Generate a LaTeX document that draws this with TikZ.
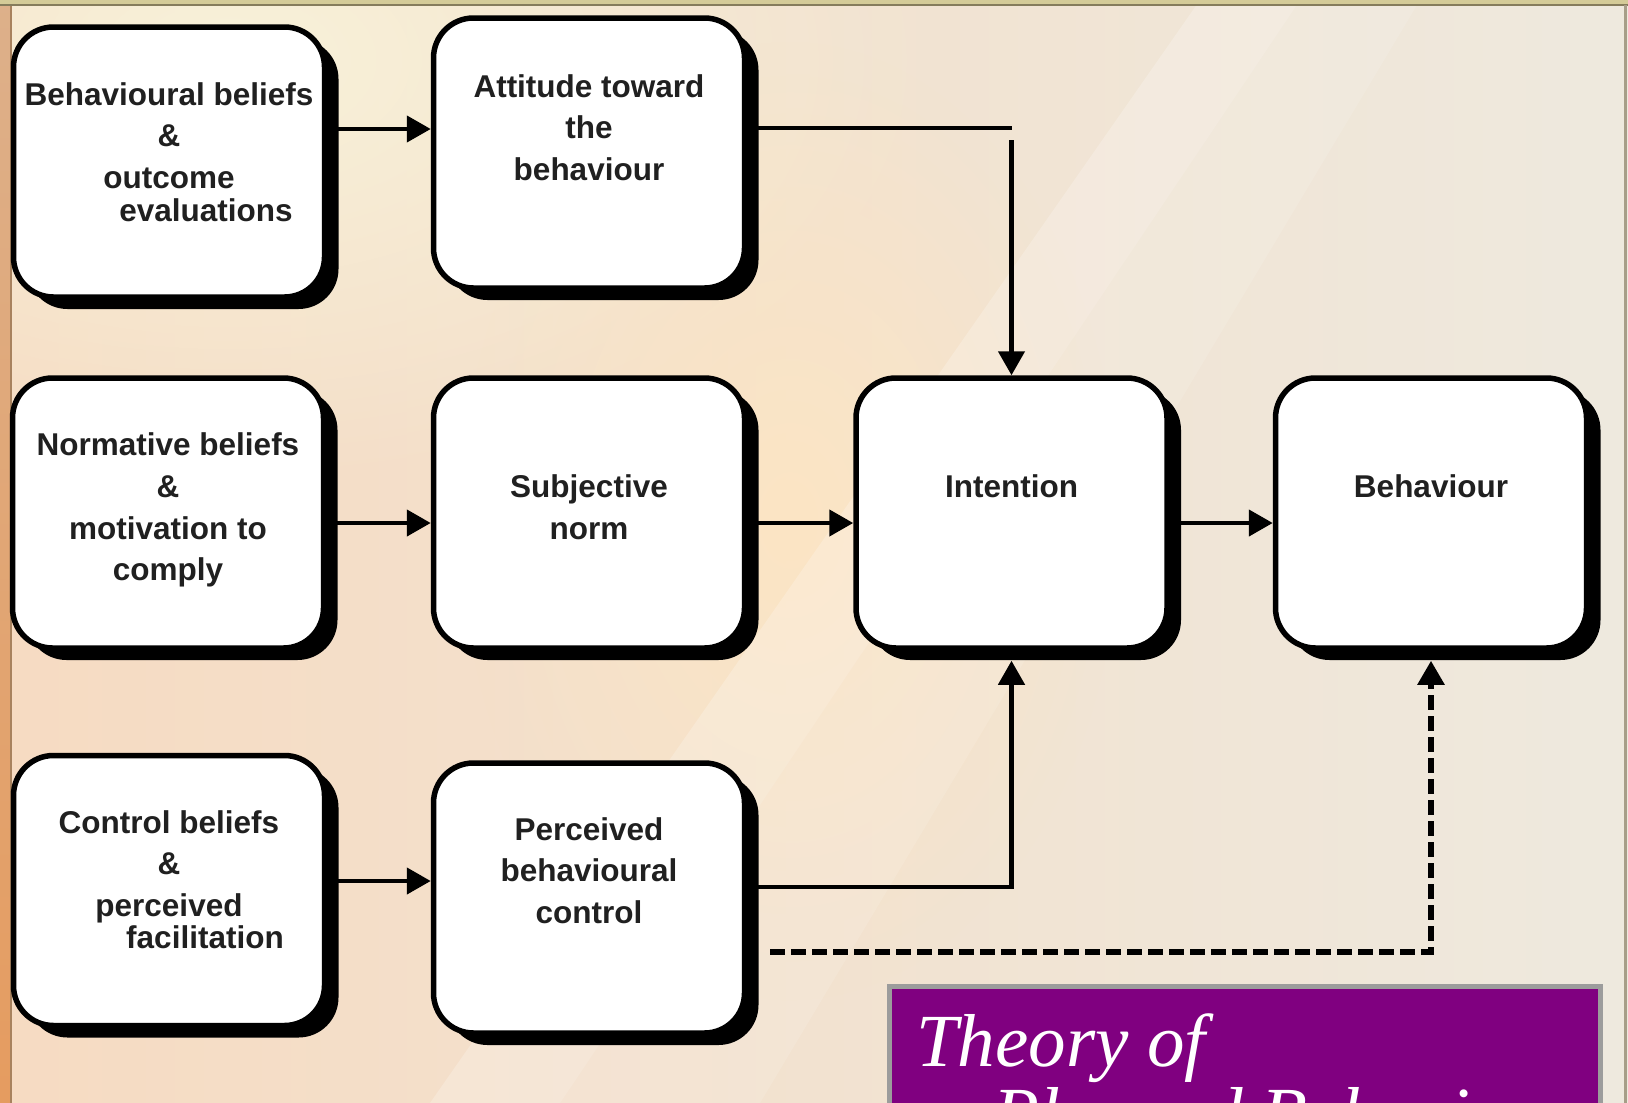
\documentclass[tikz,border=0pt]{standalone}
\usepackage{fontspec}
\setmainfont{Liberation Sans}
\newfontfamily\titlefont{Liberation Serif}
\usetikzlibrary{arrows.meta,shadows,fadings,calc}
\definecolor{txt}{HTML}{202020}
\definecolor{bgL}{HTML}{F6DBC2}
\definecolor{bgM}{HTML}{F9EAD5}
\definecolor{bgR}{HTML}{EEE9DE}
\definecolor{bgTop}{HTML}{F8F2DA}
\definecolor{bgWarm}{HTML}{FCE5C4}
\definecolor{stripA}{HTML}{DDB08A}
\definecolor{stripB}{HTML}{E39457}
\definecolor{stripC}{HTML}{E59C60}
\definecolor{stripLine}{HTML}{A8825E}
\definecolor{topFill}{HTML}{D4CB98}
\definecolor{topLine}{HTML}{857C5C}
\definecolor{rightLine}{HTML}{A79E88}
\definecolor{purp}{HTML}{800080}
\definecolor{boxgray}{HTML}{9C9C9C}
\tikzfading[name=softdisc, inner color=transparent!0, outer color=transparent!100]
\newcommand{\stk}[1]{\vtop{\halign{\hfil##\hfil\cr#1\crcr}}}
\newcommand{\stkl}[1]{\vtop{\halign{##\hfil\cr#1\crcr}}}
\begin{document}
\begin{tikzpicture}[x=1pt,y=-1pt,
  box/.style={draw=black, line width=5.5pt, fill=white, rounded corners=40pt,
    minimum width=311pt, minimum height=270pt, inner sep=0pt, text height=0pt,
    text=txt, font=\fontsize{31.5}{41.7}\selectfont\bfseries,
    drop shadow={shadow xshift=14pt, shadow yshift=-12pt, opacity=1, fill=black}},
  ln/.style={line width=4.5pt, draw=black},
  conn/.style={ln, -{Triangle[length=24pt,width=26pt]}},
  dconn/.style={line width=5.5pt, draw=black, dash pattern=on 15pt off 6pt,
    -{Triangle[length=24pt,width=26pt]}}]
\useasboundingbox (0,0) rectangle (1628,1103);
\clip (0,0) rectangle (1628,1103);
% background
\shade[left color=bgL, middle color=bgM, right color=bgR] (0,0) rectangle (1628,1103);
\fill[bgTop, path fading=softdisc] (230,60) ellipse [x radius=720pt, y radius=430pt];
\fill[bgWarm, path fading=softdisc] (790,520) ellipse [x radius=330pt, y radius=480pt];
\fill[white, opacity=0.22] (430,1103) -- (560,1103) -- (1300,0) -- (1200,0) -- cycle;
\fill[white, opacity=0.12] (560,1103) -- (760,1103) -- (1420,0) -- (1300,0) -- cycle;
% frame strips
\shade[top color=stripA, middle color=stripB, bottom color=stripC] (0,0) rectangle (10,1103);
\draw[stripLine, line width=2.5pt] (11.2,0) -- (11.2,1103);
\fill[topFill] (0,0) rectangle (1628,4);
\draw[topLine, line width=2pt] (0,5) -- (1628,5);
\draw[rightLine, line width=2.5pt] (1625.5,5) -- (1625.5,1103);
% boxes
\node[box, text depth=114pt] (b1) at (169,162)
  {\stk{Behavioural beliefs\cr\&\cr outcome\cr\noalign{\vskip-8.2pt}\hspace*{74pt}evaluations}};
\node[box, text depth=112pt] (b2) at (589,153)
  {\stk{Attitude toward\cr the\cr behaviour}};
\node[box, text depth=114.6pt] (n1) at (168,513)
  {\stk{Normative beliefs\cr\&\cr motivation to\cr comply}};
\node[box, text depth=31pt] (n2) at (589,513)
  {\stk{Subjective\cr norm}};
\node[box, text depth=31pt] (int) at (1011.5,513) {\stk{Intention}};
\node[box, text depth=31pt] (beh) at (1431,513) {\stk{Behaviour}};
\node[box, text depth=115pt] (c1) at (169,890.5)
  {\stk{Control beliefs\cr\&\cr perceived\cr\noalign{\vskip-9.7pt}\hspace*{72pt}facilitation}};
\node[box, text depth=116pt] (c2) at (589,898)
  {\stk{Perceived\cr behavioural\cr control}};
% connectors
\draw[conn] (b1.east |- 0,129) -- (b2.west |- 0,129);
\coordinate (k1) at (int.north |- 0,128);
\coordinate (k2) at (int.north |- 0,140);
\draw[ln] (b2.east |- k1) -- (k1);
\draw[conn] (k2) -- (int.north);
\draw[conn] (n1.east |- 0,523) -- (n2.west |- 0,523);
\draw[conn] (n2.east |- 0,523) -- (int.west |- 0,523);
\draw[conn] (int.east |- 0,523) -- (beh.west |- 0,523);
\draw[conn] (c1.east |- 0,881) -- (c2.west |- 0,881);
\draw[conn] (c2.east |- 0,887) -| ([yshift=-10pt]int.south);
\coordinate (d0) at ($(c2.east |- 0,952)+(23,0)$);
\draw[dconn] (d0) -| ([yshift=-10pt]beh.south);
% title box
\node[draw=boxgray, line width=4.5pt, fill=purp, minimum width=711pt, minimum height=300pt,
  anchor=north west, inner sep=0pt, outer sep=0pt] (tb) at (889.5,986.5) {};
\node[anchor=base west, inner sep=0pt, text=white,
  font=\titlefont\itshape\fontsize{75}{73}\selectfont] (title) at (916,1066)
  {\stkl{Theory of\cr\hspace*{77pt}Planned Behaviour}};
\end{tikzpicture}
\end{document}
